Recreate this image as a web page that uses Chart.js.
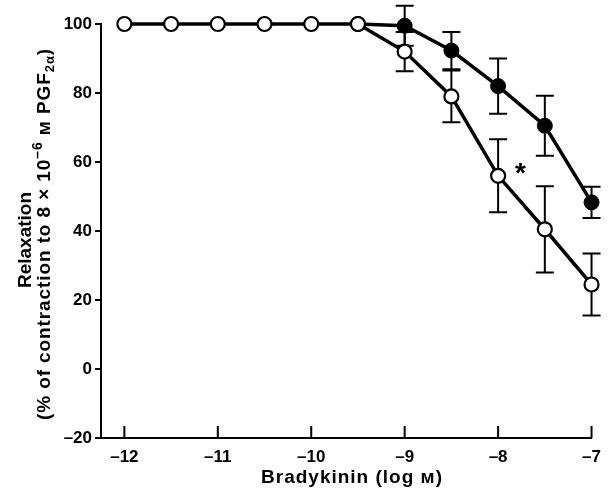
<!DOCTYPE html>
<html>
<head>
<meta charset="utf-8">
<script src="https://cdn.jsdelivr.net/npm/chart.js@4.4.1/dist/chart.umd.min.js"></script>
<style>
    body { margin: 0; background: #fff; }
    #wrap { width: 610px; height: 499px; }
</style>
</head>
<body>
<div id="wrap"><canvas id="chart" width="610" height="499"></canvas></div>
<script>
// Data
const doses = [-12, -11.5, -11, -10.5, -10, -9.5, -9, -8.5, -8, -7.5, -7];
const openMean = [100, 100, 100, 100, 100, 100, 92, 79, 56, 40.5, 24.5];
const openSem = [0, 0, 0, 0, 0, 0, 5.7, 7.5, 10.6, 12.5, 9];
const filledMean = [null, null, null, null, null, 100, 99.5, 92.3, 82, 70.5, 48.3];
const filledSem = [null, null, null, null, null, 0, 5.8, 5.4, 8, 8.7, 4.5];
const xTicks = [-12, -11, -10, -9, -8, -7];
const yTicks = [-20, 0, 20, 40, 60, 80, 100];
const star = { x: -7.76, y: 58 };

const FONT = "'Liberation Sans', Arial, sans-serif";

function toPoints(means) {
    return doses.map((d, i) => ({ x: d, y: means[i] }));
}

function dash(v) {
    return String(v).replace('-', '\u2013');
}

// error bars, inward x ticks, titles
const extras = {
    id: 'extras',
    beforeDatasetsDraw(chart) {
        const ctx = chart.ctx;
        const xs = chart.scales.x, ys = chart.scales.y;
        ctx.save();
        ctx.strokeStyle = '#000';
        ctx.lineWidth = 2;
        [[openMean, openSem], [filledMean, filledSem]].forEach(([m, s]) => {
            doses.forEach((d, i) => {
                if (m[i] == null || !s[i]) return;
                const px = xs.getPixelForValue(d);
                const top = ys.getPixelForValue(m[i] + s[i]);
                const bot = ys.getPixelForValue(m[i] - s[i]);
                ctx.beginPath();
                ctx.moveTo(px, top); ctx.lineTo(px, bot);
                ctx.moveTo(px - 9, top); ctx.lineTo(px + 9, top);
                ctx.moveTo(px - 9, bot); ctx.lineTo(px + 9, bot);
                ctx.stroke();
            });
        });
        const b = chart.chartArea.bottom;
        xTicks.forEach(t => {
            const px = xs.getPixelForValue(t);
            ctx.beginPath();
            ctx.moveTo(px, b); ctx.lineTo(px, b - 12);
            ctx.stroke();
        });
        ctx.restore();
    },
    afterDraw(chart) {
        const ctx = chart.ctx;
        const xs = chart.scales.x, ys = chart.scales.y;
        ctx.save();
        ctx.fillStyle = '#000';

        // asterisk
        ctx.font = 'bold 28px ' + FONT;
        ctx.textAlign = 'center';
        ctx.textBaseline = 'middle';
        ctx.fillText('*', xs.getPixelForValue(star.x), ys.getPixelForValue(star.y) + 5);

        // x title
        ctx.font = 'bold 19px ' + FONT;
        ctx.letterSpacing = '1px';
        ctx.textBaseline = 'alphabetic';
        ctx.fillText('Bradykinin (log \u043c)', 352, 483);

        // y title, line 1
        ctx.save();
        ctx.translate(31, 240);
        ctx.rotate(-Math.PI / 2);
        ctx.letterSpacing = '0px';
        ctx.fillText('Relaxation', 0, 0);
        ctx.restore();

        // y title, line 2 (super/subscripts)
        const segs = [
            { t: '(% of contraction to 8 \u00d7 10', size: 19, dy: 0 },
            { t: '\u20136', size: 14, dy: -8 },
            { t: ' \u043c PGF', size: 19, dy: 0 },
            { t: '2\u03b1', size: 13, dy: 4 },
            { t: ')', size: 19, dy: 0 }
        ];
        ctx.save();
        ctx.translate(50, 234);
        ctx.rotate(-Math.PI / 2);
        ctx.textAlign = 'left';
        ctx.letterSpacing = '0.9px';
        let total = 0;
        segs.forEach(s => {
            ctx.font = 'bold ' + s.size + 'px ' + FONT;
            s.w = ctx.measureText(s.t).width;
            total += s.w;
        });
        let x = -total / 2;
        segs.forEach(s => {
            ctx.font = 'bold ' + s.size + 'px ' + FONT;
            ctx.fillText(s.t, x, s.dy);
            x += s.w;
        });
        ctx.restore();

        ctx.restore();
    }
};

new Chart(document.getElementById('chart'), {
    type: 'scatter',
    data: {
        datasets: [
            {
                data: toPoints(openMean),
                showLine: true,
                borderColor: '#000',
                borderWidth: 3.5,
                pointRadius: 7,
                pointBorderWidth: 2.2,
                pointBackgroundColor: '#fff',
                pointBorderColor: '#000',
                clip: false
            },
            {
                data: toPoints(filledMean),
                showLine: true,
                spanGaps: false,
                borderColor: '#000',
                borderWidth: 3.5,
                pointRadius: 7.5,
                pointBorderWidth: 1,
                pointBackgroundColor: '#000',
                pointBorderColor: '#000',
                clip: false
            }
        ]
    },
    options: {
        responsive: false,
        animation: false,
        layout: { padding: { left: 0, right: 14, top: 24, bottom: 0 } },
        plugins: { legend: { display: false }, tooltip: { enabled: false } },
        scales: {
            x: {
                type: 'linear',
                min: -12.25,
                max: -7,
                afterBuildTicks: s => { s.ticks = xTicks.map(v => ({ value: v })); },
                afterFit: s => { s.height = 61; },
                grid: { display: false, drawTicks: false },
                border: { display: true, color: '#000', width: 2 },
                ticks: {
                    color: '#000',
                    padding: 9,
                    maxRotation: 0,
                    font: { family: FONT, size: 17, weight: 'bold' },
                    callback: v => dash(v)
                }
            },
            y: {
                min: -20,
                max: 100,
                afterBuildTicks: s => { s.ticks = yTicks.map(v => ({ value: v })); },
                afterFit: s => { s.width = 101; },
                grid: { drawOnChartArea: false, drawTicks: true, tickLength: 6, color: '#000', lineWidth: 2 },
                border: { display: true, color: '#000', width: 2 },
                ticks: {
                    color: '#000',
                    padding: 3,
                    font: { family: FONT, size: 17, weight: 'bold' },
                    callback: v => dash(v)
                }
            }
        }
    },
    plugins: [extras]
});
</script>
</body>
</html>
